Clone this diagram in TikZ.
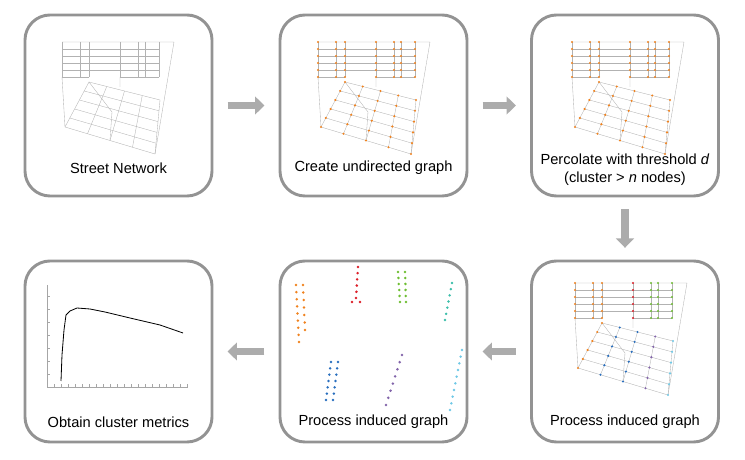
\documentclass[tikz,border=0pt]{standalone}
\usepackage{fontspec}
\setmainfont{Liberation Sans}
\usetikzlibrary{calc,arrows.meta}
\definecolor{dotorange}{RGB}{240,130,30}
\definecolor{dotred}{RGB}{220,30,40}
\definecolor{dotgreen}{RGB}{110,190,50}
\definecolor{dotblue}{RGB}{40,110,190}
\definecolor{dotpurple}{RGB}{130,100,170}
\definecolor{dotcyan}{RGB}{110,200,230}
\definecolor{dotteal}{RGB}{60,190,170}
% street network: grid part + tilted block, #2 = nodes drawn on top
\newcommand{\streetnet}[2]{%
  \begin{scope}[shift={#1}]
    \coordinate (A) at (27,40); \coordinate (B) at (98,58);
    \coordinate (C) at (93,112); \coordinate (D) at (3,85);
    \foreach \y in {7,14,21,28}
      \draw[street] (0,\y) -- (97,\y);
    \draw[street] (0,35) -- (27,35) (58,35) -- (97,35);
    \draw[street] (0,0) -- (112,0) -- (93,112);
    \foreach \x in {0,18,27,58,76,83,97}
      \draw[street] (\x,0) -- (\x,35);
    \draw[street] (58,35) -- (58,45) (0,35) -- (3,85)
      (27,40) -- (50,70) -- (48,98);
    \foreach \v in {0,0.2,0.4,0.6,0.8,1}
      \draw[street] ($($(A)!\v!(D)$)$) -- ($($(B)!\v!(C)$)$);
    \foreach \u in {0,0.25,0.5,0.75,1}
      \draw[street] ($(A)!\u!(B)$) -- ($(D)!\u!(C)$);
    #2
  \end{scope}}
% nodes of the grid part and of the tilted block
\newcommand{\griddots}[2]{%
  \foreach \x in {#1}\foreach \y in {0,7,14,21,28,35}
    \fill[#2] (\x,\y) circle (1.2);}
\newcommand{\blockdots}[2]{%
  \foreach \u in {#1}\foreach \v in {0,0.2,0.4,0.6,0.8,1}
    \fill[#2] ($($(A)!\u!(B)$)!\v!($(D)!\u!(C)$)$) circle (1.2);}
\newcommand{\dotcol}[4]{%
  \foreach \t in {0,...,#3}
    \fill[#4] ($#1!\t/#3!#2$) circle (1.4);}
\begin{document}
\begin{tikzpicture}[x=0.03cm, y=-0.03cm,
    panel/.style={draw=gray!85, line width=2.5pt, rounded corners=0.75cm,
      minimum width=5.61cm, minimum height=5.43cm},
    flow/.style={draw=gray!65, line width=6pt,
      -{Triangle[length=8pt, width=15pt]}},
    street/.style={draw=gray!60, line width=0.3pt},
    label/.style={font=\fontsize{12.5}{15}\selectfont, align=center}
  ]
  \useasboundingbox (0,0) rectangle (745,460);
  % panels
  \node[panel] (street) at (118.5,105.5) {};
  \node[panel] (graph) at (373.5,105.5) {};
  \node[panel] (perc) at (625,105.5) {};
  \node[panel] (induced) at (625,351.5) {};
  \node[panel] (process) at (373.5,351.5) {};
  \node[panel] (metrics) at (118.5,351.5) {};
  % flow arrows
  \draw[flow, shorten <=12pt, shorten >=12pt] (street) -- (graph);
  \draw[flow, shorten <=12pt, shorten >=12pt] (graph) -- (perc);
  \draw[flow, shorten <=10pt, shorten >=10pt] (perc) -- (induced);
  \draw[flow, shorten <=12pt, shorten >=12pt] (induced) -- (process);
  \draw[flow, shorten <=12pt, shorten >=12pt] (process) -- (metrics);
  % labels
  \node[label] (l1) at (118.5,168) {Street Network};
  \node[label] (l2) at (373.5,168) {Create undirected graph};
  \node[label] (l3) at (625,170) {Percolate with threshold \textit{d}\\(cluster > \textit{n} nodes)};
  \node[label] (l4) at (625,422) {Process induced graph};
  \node[label] (l5) at (373.5,422) {Process induced graph};
  \node[label] (l6) at (118.5,422) {Obtain cluster metrics};
  % street networks
  \streetnet{(62,42)}{}
  \streetnet{(318,42)}{\griddots{0,18,27,58,76,83,97}{dotorange}
    \blockdots{0,0.25,0.5,0.75,1}{dotorange}}
  \streetnet{(572,42)}{\griddots{0,18,27,58,76,83,97}{dotorange}
    \blockdots{0,0.25,0.5,0.75,1}{dotorange}}
  \streetnet{(575,283)}{\griddots{0,18,27}{dotorange}
    \griddots{58}{dotred}\griddots{76,83,97}{dotgreen}
    \blockdots{0}{dotorange}\blockdots{0.25,0.5}{dotblue}
    \blockdots{0.75}{dotpurple}\blockdots{1}{dotcyan}}
  % separated clusters
  \dotcol{(296,285)}{(299,342)}{8}{dotorange}
  \dotcol{(303,285)}{(305,330)}{6}{dotorange}
  \dotcol{(358,267)}{(356,298)}{5}{dotred}
  \fill[dotred] (352,302) circle (1.4) (360,302) circle (1.4);
  \dotcol{(398,272)}{(400,302)}{5}{dotgreen}
  \dotcol{(405,272)}{(406,302)}{5}{dotgreen}
  \dotcol{(452,283)}{(445,320)}{6}{dotteal}
  \dotcol{(331,362)}{(326,400)}{6}{dotblue}
  \dotcol{(338,362)}{(333,400)}{6}{dotblue}
  \dotcol{(402,355)}{(386,405)}{7}{dotpurple}
  \dotcol{(462,350)}{(450,410)}{9}{dotcyan}
  % metrics plot
  \draw[gray!70, line width=0.5pt] (47,285) -- (47,387) -- (188,387);
  \foreach \i in {0,...,20}
    \draw[gray!70, line width=0.4pt] (47+\i*7,387) -- (47+\i*7,384);
  \foreach \i in {0,...,7}
    \draw[gray!70, line width=0.4pt] (47,387-\i*13) -- (50,387-\i*13);
  \draw[black, line width=0.7pt] (61,381) -- (62,355) -- (64,330) -- (66,315)
    -- (70,311) -- (77,308) -- (90,309) -- (105,312) -- (130,318)
    -- (160,325) -- (183,333);
\end{tikzpicture}
\end{document}
